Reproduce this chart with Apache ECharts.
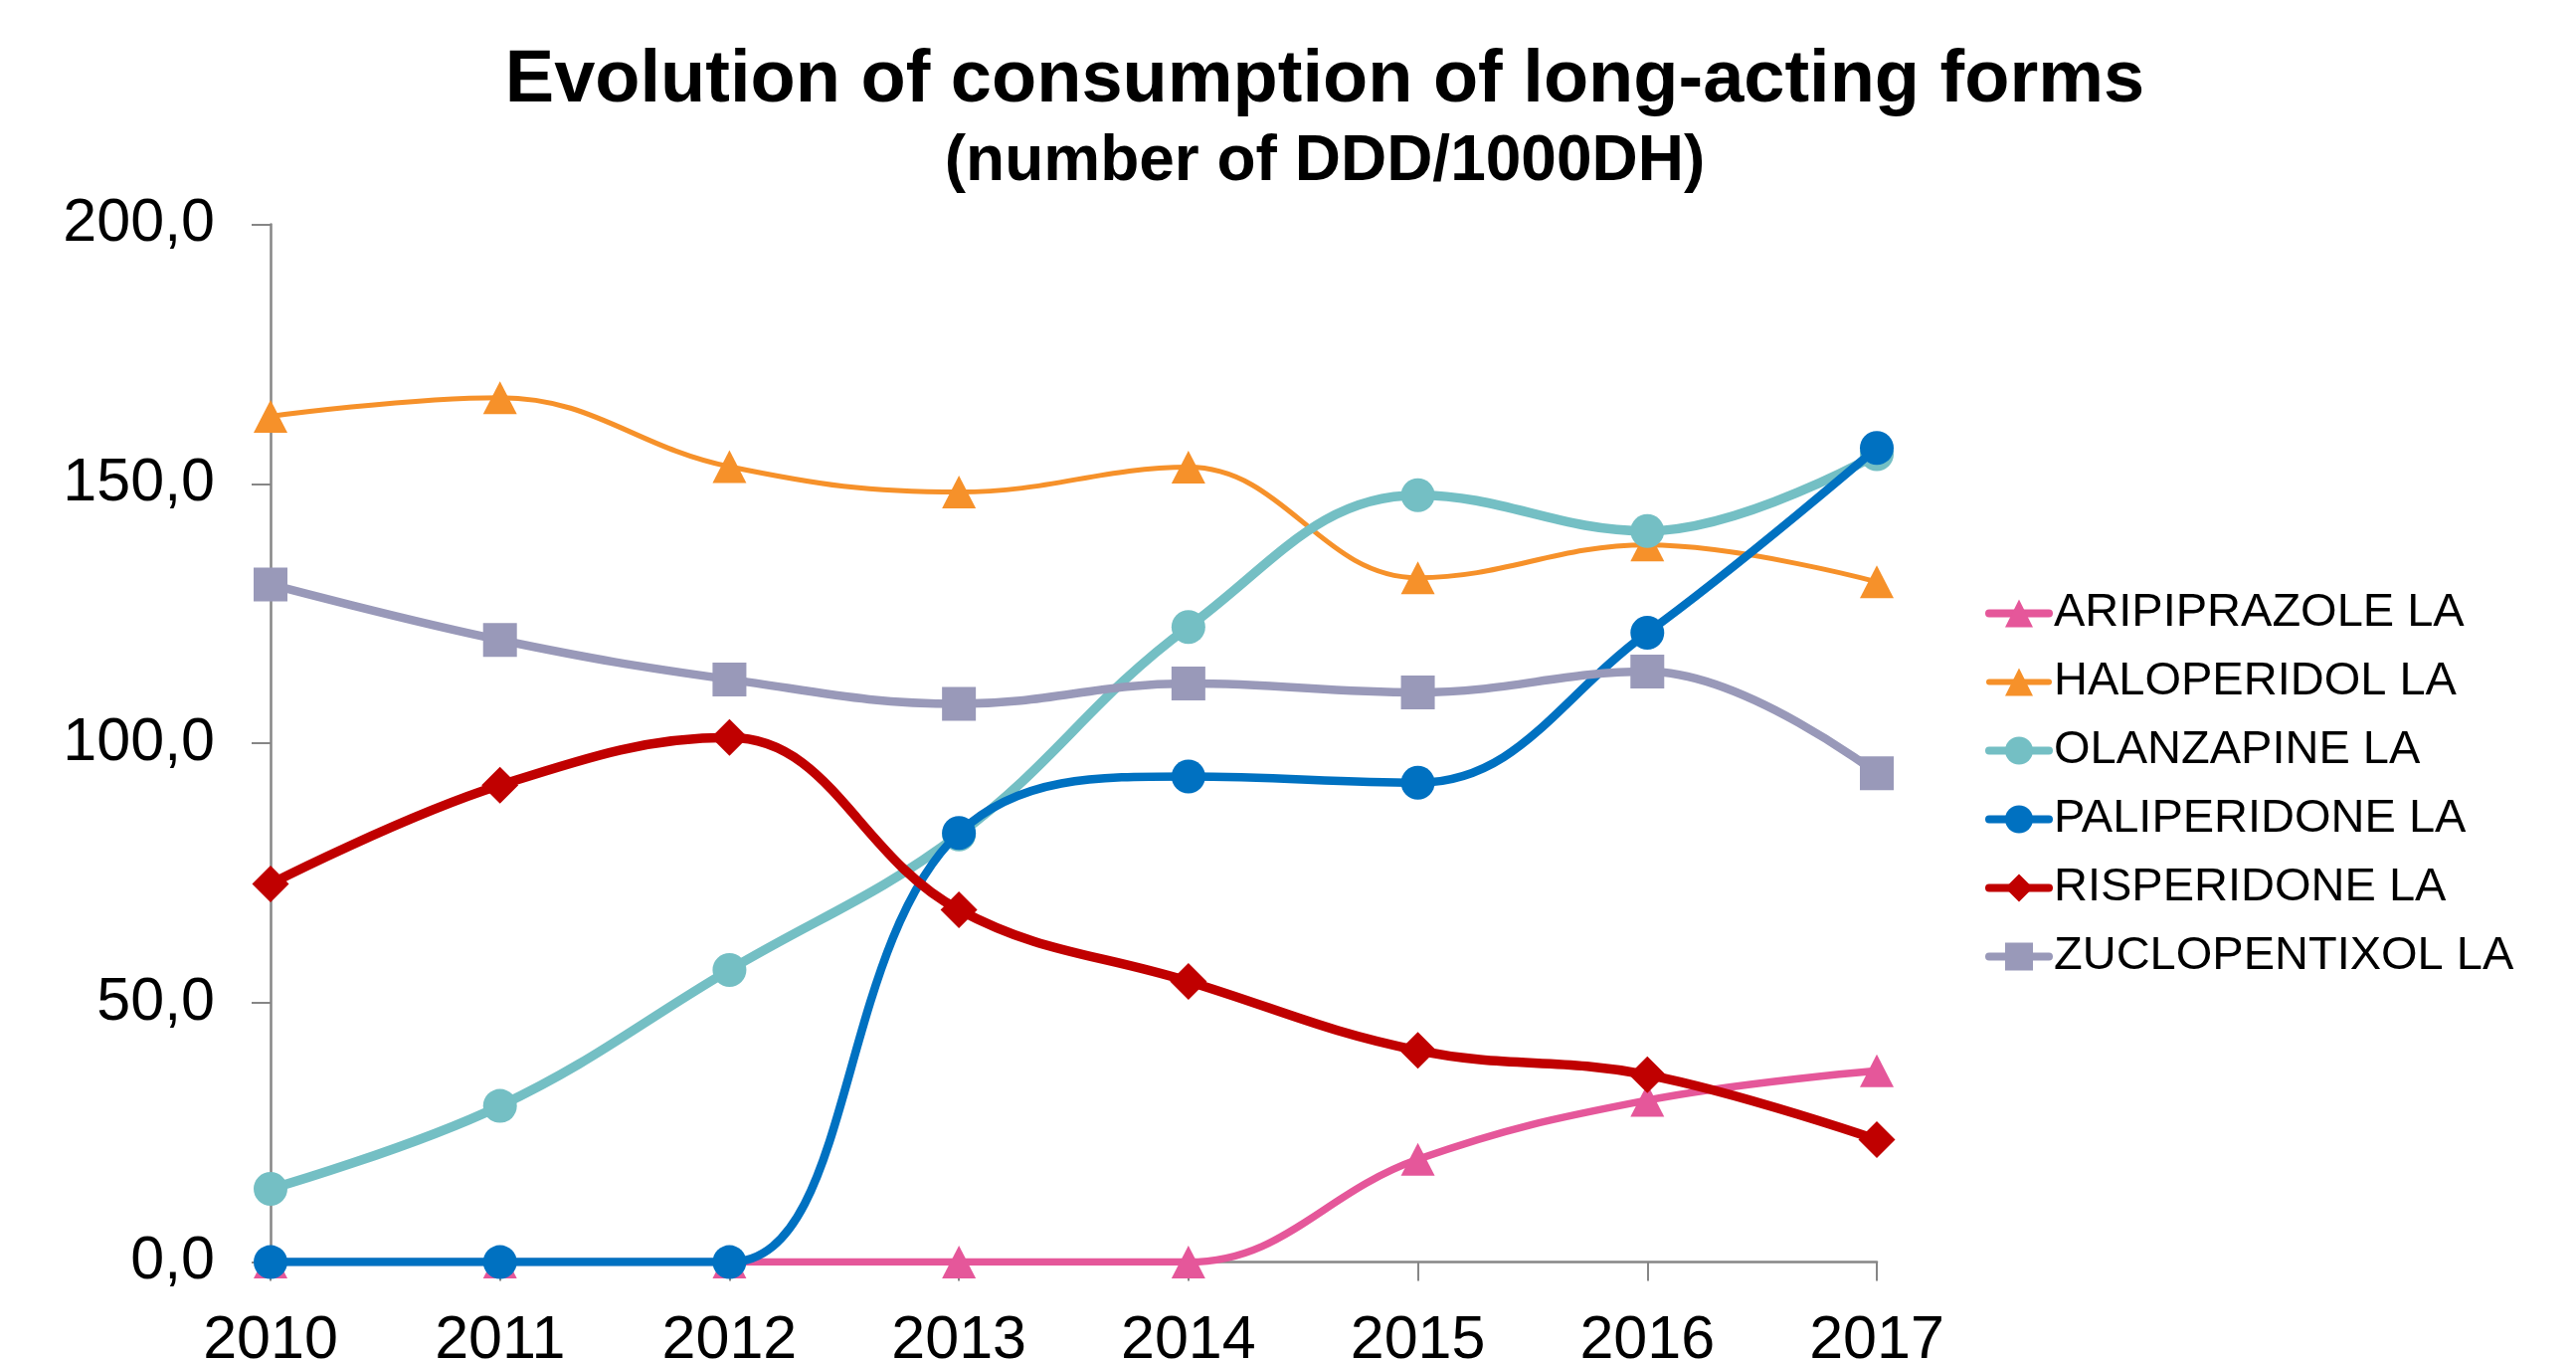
<!DOCTYPE html>
<html>
<head>
<meta charset="utf-8">
<script src="https://cdn.jsdelivr.net/npm/echarts@6/dist/echarts.min.js"></script>
<style>
  html, body { margin: 0; padding: 0; background: #fff; }
  #chart { width: 2590px; height: 1368px; }
</style>
</head>
<body>
<div id="chart"></div>
<script>
const years = ['2010', '2011', '2012', '2013', '2014', '2015', '2016', '2017'];
const seriesNames = ['ARIPIPRAZOLE LA', 'HALOPERIDOL LA', 'OLANZAPINE LA', 'PALIPERIDONE LA', 'RISPERIDONE LA', 'ZUCLOPENTIXOL LA'];
const aripiprazole = [0, 0, 0, 0, 0, 19.8, 31.2, 36.9];
const haloperidol = [163.0, 166.6, 153.3, 148.4, 153.2, 131.9, 138.2, 131.1];
const olanzapine = [14.1, 30.1, 56.3, 82.4, 122.4, 147.8, 140.9, 155.7];
const paliperidone = [0, 0, 0, 82.7, 93.6, 92.4, 121.3, 156.9];
const risperidone = [72.9, 91.9, 101.1, 67.9, 54.1, 40.8, 36.1, 23.6];
const zuclopentixol = [130.6, 119.9, 112.3, 107.6, 111.5, 109.8, 113.8, 94.2];
const yTicks = [0, 50, 100, 150, 200];
const titleText = 'Evolution of consumption of long-acting forms';
const subtitleText = '(number of DDD/1000DH)';

const FONT = 'Arial, "Liberation Sans", sans-serif';
const seriesValues = [aripiprazole, haloperidol, olanzapine, paliperidone, risperidone, zuclopentixol];
const colors = ['#E5579A', '#F6912A', '#74BFC4', '#0071C1', '#C00000', '#9999B9'];
const symbols = ['triangle', 'triangle', 'circle', 'circle', 'diamond', 'rect'];
const symbolSizes = [[34, 33], [34, 33], 34, 34, 37, 34];
const widths = [7.5, 5, 9.5, 8.5, 9.5, 8.5];
const legendWidths = [8, 6, 8, 8, 8, 8];

const chart = echarts.init(document.getElementById('chart'), null, { renderer: 'canvas' });

const series = seriesNames.map((name, i) => ({
  name: name,
  type: 'line',
  data: seriesValues[i],
  smooth: 0.4,
  symbol: symbols[i],
  symbolSize: symbolSizes[i],
  showSymbol: true,
  showAllSymbol: true,
  color: colors[i],
  lineStyle: { color: colors[i], width: widths[i] },
  itemStyle: { color: colors[i] },
  z: 2 + i
}));

chart.setOption({
  animation: false,
  backgroundColor: '#ffffff',
  graphic: [
    { type: 'text', x: 1332, y: 82, style: { text: titleText, font: 'bold 74px ' + FONT, fill: '#000', align: 'center', textAlign: 'center', verticalAlign: 'middle', textVerticalAlign: 'middle' } },
    { type: 'text', x: 1332, y: 163, style: { text: subtitleText, font: 'bold 64px ' + FONT, fill: '#000', align: 'center', textAlign: 'center', verticalAlign: 'middle', textVerticalAlign: 'middle' } }
  ],
  legend: {
    orient: 'vertical',
    left: 1996,
    top: 593,
    padding: 0,
    itemWidth: 60,
    itemHeight: 35,
    itemGap: 22,
    data: seriesNames.map((n, i) => ({
      name: n,
      lineStyle: { width: legendWidths[i], cap: 'round', color: colors[i] }
    })),
    textStyle: { fontFamily: FONT, fontSize: 47, lineHeight: 47, color: '#000' }
  },
  grid: { left: 272, right: 703, top: 225.5, bottom: 99.4, containLabel: false, outerBoundsMode: 'none' },
  xAxis: {
    type: 'category',
    data: years,
    boundaryGap: false,
    axisLine: { lineStyle: { color: '#868686', width: 2.5 } },
    axisTick: { show: true, length: 19, lineStyle: { color: '#868686', width: 2 } },
    axisLabel: { fontFamily: FONT, fontSize: 61, color: '#000', margin: 49 },
    splitLine: { show: false }
  },
  yAxis: {
    type: 'value',
    min: yTicks[0],
    max: yTicks[yTicks.length - 1],
    interval: yTicks[1] - yTicks[0],
    axisLine: { show: true, lineStyle: { color: '#868686', width: 2.5 } },
    axisTick: { show: true, length: 19, lineStyle: { color: '#868686', width: 2 } },
    axisLabel: {
      fontFamily: FONT, fontSize: 61, color: '#000', margin: 56,
      formatter: v => v.toFixed(1).replace('.', ',')
    },
    splitLine: { show: false }
  },
  series: series
});
</script>
</body>
</html>
